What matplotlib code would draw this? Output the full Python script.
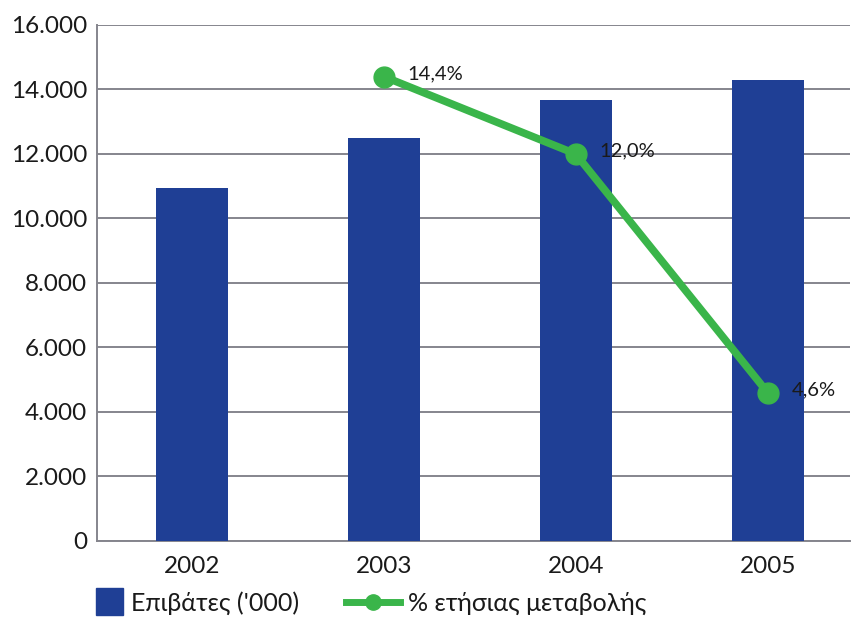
import matplotlib
matplotlib.use('Agg')
import matplotlib.pyplot as plt
from matplotlib.patches import Patch, Rectangle
from matplotlib.lines import Line2D
from matplotlib.legend_handler import HandlerPatch

plt.rcParams['font.family'] = ['Lato', 'Open Sans', 'DejaVu Sans']

# data
years = ['2002', '2003', '2004', '2005']
passengers = [10950, 12500, 13670, 14300]   # Επιβάτες ('000)
change_years = ['2003', '2004', '2005']
change_pct = [14.4, 12.0, 4.6]               # % ετήσιας μεταβολής
change_labels = ['14,4%', '12,0%', '4,6%']

bar_color = '#1f3f95'
line_color = '#3ab54a'
grid_color = '#85858d'
text_color = '#1a1a1a'

fig = plt.figure(figsize=(8.53, 6.17), dpi=100)
ax = fig.add_axes([0.1137, 0.1232, 0.883, 0.8363])

x = list(range(len(years)))
ax.bar(x, passengers, width=0.375, color=bar_color, zorder=3)
ax.set_xlim(-0.495, 3.43)
ax.set_ylim(0, 16000)
ax.set_yticks(range(0, 16001, 2000))
ax.set_yticklabels([f'{v:,}'.replace(',', '.') for v in range(0, 16001, 2000)])
ax.set_xticks(x)
ax.set_xticklabels(years)
ax.grid(axis='y', color=grid_color, linewidth=1.4, zorder=0)
ax.tick_params(axis='both', length=0, labelsize=17.5, colors=text_color)
ax.tick_params(axis='y', pad=7)
ax.tick_params(axis='x', pad=11)
for s in ['top', 'right']:
    ax.spines[s].set_visible(False)
for s in ['left', 'bottom']:
    ax.spines[s].set_color(grid_color)
    ax.spines[s].set_linewidth(1.4)

# % change on a hidden second axis (0-16 scale)
ax2 = ax.twinx()
ax2.set_ylim(0, 16)
ax2.axis('off')
cx = [years.index(y) for y in change_years]
ax2.plot(cx, change_pct, color=line_color, linewidth=5.5, marker='o',
         markersize=15, zorder=5)
for xi, yi, lab in zip(cx, change_pct, change_labels):
    ax2.annotate(lab, (xi, yi), xytext=(17, 2), textcoords='offset points',
                 fontsize=14.5, color=text_color, va='center', ha='left')


# square legend key for the bars, pushed to the right of its handle box
def square_patch(legend, orig_handle, xdescent, ydescent, width, height, fontsize):
    sq = 19.5
    return Rectangle((width - sq - xdescent, -ydescent + height / 2 - sq / 2),
                     sq, sq)


handles = [Patch(color=bar_color, label="Επιβάτες ('000)"),
           Line2D([0], [0], color=line_color, linewidth=5, marker='o',
                  markersize=11, label='% ετήσιας μεταβολής')]
fig.legend(handles=handles, loc='lower left', bbox_to_anchor=(0.081, 0.004),
           ncol=2, frameon=False, fontsize=18, handlelength=2.16,
           handletextpad=0.3, columnspacing=1.9, borderaxespad=0,
           borderpad=0, labelcolor=text_color,
           handler_map={Patch: HandlerPatch(patch_func=square_patch)})

plt.savefig('out.png', dpi=100)
plt.close()
